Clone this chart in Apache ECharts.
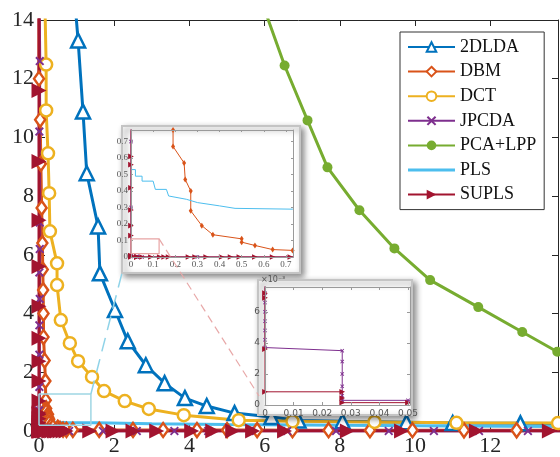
<!DOCTYPE html>
<html><head><meta charset="utf-8">
<script src="https://cdn.jsdelivr.net/npm/echarts@6/dist/echarts.min.js"></script>
<style>html,body{margin:0;padding:0;background:#fff}#c{width:560px;height:457px}</style>
</head><body><div id="c"></div>
<script>
// ---------- data ----------
const seriesNames = ['2DLDA','DBM','DCT','JPCDA','PCA+LPP','PLS','SUPLS'];
const data2DLDA = [[0.93,15],[1.04,13.3],[1.17,10.88],[1.27,8.78],[1.57,6.97],[1.62,5.37],[2.02,4.12],[2.36,3.06],[2.84,2.24],[3.34,1.63],[3.88,1.12],[4.46,0.85],[5.2,0.61],[6.18,0.48],[6.9,0.36],[8.07,0.33],[9.77,0.3],[11.0,0.27],[12.8,0.26],[14.5,0.25]];
const dataDBM = [[0.0,15],[0.0,12.0],[0.03,10.6],[0.05,9.1],[0.07,7.6],[0.09,6.4],[0.1,5.5],[0.11,4.8],[0.12,4.0],[0.12,3.2],[0.15,2.4],[0.17,1.7],[0.18,1.05],[0.19,0.77],[0.19,0.67],[0.24,0.57],[0.245,0.47],[0.27,0.40],[0.27,0.28],[0.32,0.19],[0.37,0.135],[0.5,0.11],[0.5,0.09],[0.56,0.07],[0.64,0.045],[0.73,0.04],[0.9,0.04],[1.6,0.038],[2.5,0.036],[3.3,0.034],[4.2,0.032],[5.0,0.03],[5.8,0.03],[6.74,0.028],[7.7,0.027],[8.8,0.026],[9.93,0.025],[11.3,0.024],[12.7,0.023],[14.5,0.022]];
const dataDCT = [[0.15,15],[0.19,12.48],[0.19,10.92],[0.24,9.46],[0.27,8.1],[0.29,6.8],[0.48,5.71],[0.48,4.97],[0.58,3.78],[0.82,2.99],[1.04,2.38],[1.41,1.84],[1.73,1.36],[2.28,1.02],[2.92,0.75],[3.85,0.54],[5.31,0.37],[6.74,0.33],[8.92,0.31],[11.1,0.28],[13.8,0.27],[14.5,0.27]];
const dataJPCDA = [[0.0,15],[0.02,12.6],[0.01,10.2],[0.02,7.1],[0.02,6.2],[0.01,5.4],[0.02,4.5],[0.01,3.6],[0.01,2.6],[0.01,1.5],[0.0,0.7],[0.0,0.3],[0,0.0072],[0,0.0066],[0,0.006],[0,0.0054],[0,0.0048],[0,0.0042],[0,0.0037],[0.027,0.0035],[0.027,0.0028],[0.027,0.002],[0.027,0.0012],[0.027,0.0006],[0.027,0.0003],[0.05,0.0003],[0.3,0.0003],[0.8,0.0003],[1.7,0.0003],[2.6,0.0003],[3.6,0.0003],[4.5,0.0003],[5.6,0.0003],[6.6,0.0003],[7.9,0.0003],[9.3,0.0003],[10.5,0.0003],[11.7,0.0003],[13.0,0.0003],[14.5,0.0003]];
const dataPCALPP = [[6.0,14.35],[6.53,12.45],[7.14,10.58],[7.67,8.98],[8.52,7.52],[9.45,6.22],[10.4,5.14],[11.68,4.22],[12.85,3.37],[13.78,2.7],[14.5,2.25]];
const dataPLS = [[0,0.53],[0.02,0.53],[0.02,0.49],[0.05,0.49],[0.05,0.46],[0.1,0.46],[0.11,0.41],[0.16,0.41],[0.17,0.37],[0.25,0.35],[0.25,0.34],[0.3,0.33],[0.4,0.31],[0.47,0.295],[0.73,0.29],[1.5,0.28],[3,0.25],[5,0.22],[8,0.2],[11,0.17],[14.5,0.15]];
const dataSUPLS = [[0,15],[0,11.6],[0,9.18],[0,7.18],[0,5.6],[0,4.25],[0,3.16],[0,2.38],[0,1.7],[0,1.02],[0,0.61],[0,0.56],[0,0.42],[0,0.285],[0,0.19],[0,0.13],[0,0.0072],[0,0.0069],[0,0.0036],[0,0.00085],[0.027,0.00085],[0.027,0.00045],[0.027,0.00015],[0.05,0.00015],[0.09,0.00012],[0.13,0.00012],[0.15,0.00012],[0.17,0.00012],[0.26,0.00012],[0.29,0.00012],[0.34,0.00012],[0.41,0.00012],[0.45,0.00012],[0.49,0.00012],[0.56,0.00012],[0.64,0.00012],[0.72,0.00012],[1.35,0.00012],[1.97,0.00012],[2.5,0.00012],[3.13,0.00012],[4.06,0.00012],[4.62,0.00012],[5.15,0.00012],[5.68,0.00012],[6.53,0.00012],[8.2,0.00012],[9.64,0.00012],[11.63,0.00012],[13.57,0.00012],[14.5,0.00012]];
// zoom boxes (annotations, data space)
const zoomBoxMain = [[0,0.2],[1.38,0.2],[1.38,1.26],[0,1.26],[0,0.2]];
const zoomBoxInset = [[0,0.02],[0.127,0.02],[0.127,0.11],[0,0.11],[0,0.02]];
// axis ranges / ticks
const mainX = {min:0, max:13.8, interval:2};
const mainY = {min:0, max:14, interval:2};
const in1X = {min:0, max:0.732, interval:0.1};
const in1Y = {min:0, max:0.77, interval:0.1};
const in2X = {min:0, max:0.0507, interval:0.01};
const in2Y = {min:0, max:0.0076, interval:0.002};

// ---------- styling ----------
const asterisk = 'path://M0,1.5L1.5,0L5,3.5L8.5,0L10,1.5L6.5,5L10,8.5L8.5,10L5,6.5L1.5,10L0,8.5L3.5,5Z';
const lineOnlyIcon = 'path://M0,0L0.01,0L0.01,0.01Z M0,4.5L47,4.5L47,7.5L0,7.5Z M46.99,11.99L47,11.99L47,12Z';
const defs = [
  {name:'2DLDA', data:data2DLDA, color:'#0072BD', symbol:'triangle', size:14, hollow:true, rot:0},
  {name:'DBM', data:dataDBM, color:'#D95319', symbol:'diamond', size:[10,14], hollow:true, rot:0},
  {name:'DCT', data:dataDCT, color:'#EDB120', symbol:'circle', size:12, hollow:true, rot:0},
  {name:'JPCDA', data:dataJPCDA, color:'#7E2F8E', symbol:asterisk, size:9, hollow:false, rot:0},
  {name:'PCA+LPP', data:dataPCALPP, color:'#77AC30', symbol:'circle', size:10, hollow:false, rot:0},
  {name:'PLS', data:dataPLS, color:'#4DBEEE', symbol:'none', size:0, hollow:false, rot:0},
  {name:'SUPLS', data:dataSUPLS, color:'#A2142F', symbol:'triangle', size:15, hollow:false, rot:-90}
];

const series = [];
function addSeries(axisIdx, inset) {
  defs.forEach(d => {
    const sz = inset ? (Array.isArray(d.size) ? [4,6] : Math.max(4, d.size*0.38)) : d.size;
    series.push({
      name: d.name, type:'line', xAxisIndex:axisIdx, yAxisIndex:axisIdx,
      data: d.data, symbol: d.symbol, symbolSize: sz, symbolRotate: d.rot,
      showSymbol: d.symbol !== 'none', showAllSymbol: true, clip: true,
      z: inset ? 11 : 2,
      lineStyle: {color: d.color, width: inset ? 1 : 3},
      itemStyle: (d.hollow && !inset) ? {color:'#fff', borderColor:d.color, borderWidth:2.5} : {color:d.color, borderColor:d.color, borderWidth:0},
      emphasis:{disabled:true}, animation:false
    });
  });
}
addSeries(0, false);
addSeries(2, true);
addSeries(4, true);
series.push({type:'line', xAxisIndex:0, yAxisIndex:0, data:zoomBoxMain, symbol:'none', z:3,
  lineStyle:{color:'#9fd6e3', width:1.5}, emphasis:{disabled:true}});
series.push({type:'line', xAxisIndex:2, yAxisIndex:2, data:zoomBoxInset, symbol:'none', z:12,
  lineStyle:{color:'#e8a4a4', width:1.2}, emphasis:{disabled:true}});

const mainFont = {fontFamily:'Liberation Serif', fontSize:22, color:'#262626'};
function axisPair(kind, grid, rng, opts) {
  const base = {
    type:'value', gridIndex:grid, min:rng.min, max:rng.max, interval:rng.interval,
    splitLine:{show:false}, z: opts.z,
    axisLine:{show:true, onZero:false, lineStyle:{color:opts.lineColor, width:1}},
    axisTick:{show:true, inside:true, length:opts.tickLen, lineStyle:{color:opts.lineColor}}
  };
  const a = Object.assign({}, base, {
    position: kind==='x' ? 'bottom' : 'left',
    axisLabel: Object.assign({show:true, margin:opts.margin, showMaxLabel:opts.showMax, formatter:opts.fmt}, opts.font)
  }, opts.extra || {});
  const b = Object.assign({}, base, {
    position: kind==='x' ? 'top' : 'right', axisLabel:{show:false}
  });
  return [a, b];
}
const xAxes = [].concat(
  axisPair('x', 0, mainX, {z:0, lineColor:'#262626', tickLen:6, margin:4, showMax:false, font:mainFont, fmt:v=>String(v)}),
  axisPair('x', 1, in1X, {z:12, lineColor:'#9a9a9a', tickLen:2, margin:3, showMax:false,
    font:{fontFamily:'Liberation Serif', fontSize:9, color:'#555'}, fmt:v=>String(Math.round(v*10)/10)}),
  axisPair('x', 2, in2X, {z:12, lineColor:'#9a9a9a', tickLen:3, margin:4, showMax:false,
    font:{fontFamily:'DejaVu Sans', fontSize:9, color:'#555'}, fmt:v=>String(Math.round(v*100)/100)})
);
const yAxes = [].concat(
  axisPair('y', 0, mainY, {z:0, lineColor:'#262626', tickLen:6, margin:5, showMax:true, font:mainFont, fmt:v=>String(v)}),
  axisPair('y', 1, in1Y, {z:12, lineColor:'#9a9a9a', tickLen:2, margin:3, showMax:false,
    font:{fontFamily:'Liberation Serif', fontSize:9, color:'#555'}, fmt:v=>String(Math.round(v*10)/10)}),
  axisPair('y', 2, in2Y, {z:12, lineColor:'#9a9a9a', tickLen:3, margin:5, showMax:false,
    font:{fontFamily:'DejaVu Sans', fontSize:9, color:'#555'}, fmt:v=>String(Math.round(v*1000)),
    extra:{name:'×10⁻³', nameLocation:'end', nameGap:3,
      nameTextStyle:{fontFamily:'DejaVu Sans', fontSize:8, color:'#555', align:'left', padding:[0,0,0,-4]}}})
);

const chart = echarts.init(document.getElementById('c'), null, {renderer:'canvas'});
chart.setOption({
  animation:false,
  backgroundColor:'#fff',
  grid:[
    {left:39, top:20, width:519, height:413},
    {left:131, top:130, width:162, height:127},
    {left:265, top:287, width:145, height:118}
  ],
  xAxis: xAxes,
  yAxis: yAxes,
  legend:{
    data: seriesNames.map(n => n === 'PLS' ? {name:n, icon:lineOnlyIcon} : n),
    orient:'vertical', left:400, top:32, z:20,
    backgroundColor:'#fff', borderColor:'#333', borderWidth:1, padding:[6,8,6,7],
    itemWidth:47, itemHeight:12, itemGap:6.6, selectedMode:false,
    textStyle:{fontFamily:'Liberation Serif', fontSize:18, lineHeight:18, color:'#111'}
  },
  series: series
});

const p1 = chart.convertToPixel({xAxisIndex:0, yAxisIndex:0}, zoomBoxMain[2]);
const p2 = chart.convertToPixel({xAxisIndex:2, yAxisIndex:2}, zoomBoxInset[2]);
chart.setOption({
  graphic:[
    {type:'rect', z:5, shape:{x:122, y:126, width:178, height:147},
      style:{fill:'#fff', stroke:'#c4c4c4', lineWidth:2, shadowBlur:6, shadowColor:'rgba(0,0,0,0.45)', shadowOffsetX:3, shadowOffsetY:3}},
    {type:'rect', z:5, shape:{x:258, y:280, width:154, height:135},
      style:{fill:'#fff', stroke:'#c4c4c4', lineWidth:2, shadowBlur:6, shadowColor:'rgba(0,0,0,0.45)', shadowOffsetX:3, shadowOffsetY:3}},
    {type:'line', z:6, shape:{x1:p1[0], y1:p1[1], x2:122, y2:273},
      style:{stroke:'#8fd3e8', lineWidth:1.5, lineDash:[14,8]}},
    {type:'line', z:13, shape:{x1:p2[0], y1:p2[1], x2:259, y2:396},
      style:{stroke:'#e8a8a8', lineWidth:1.2, lineDash:[8,5]}}
  ]
});
</script>
</body></html>
